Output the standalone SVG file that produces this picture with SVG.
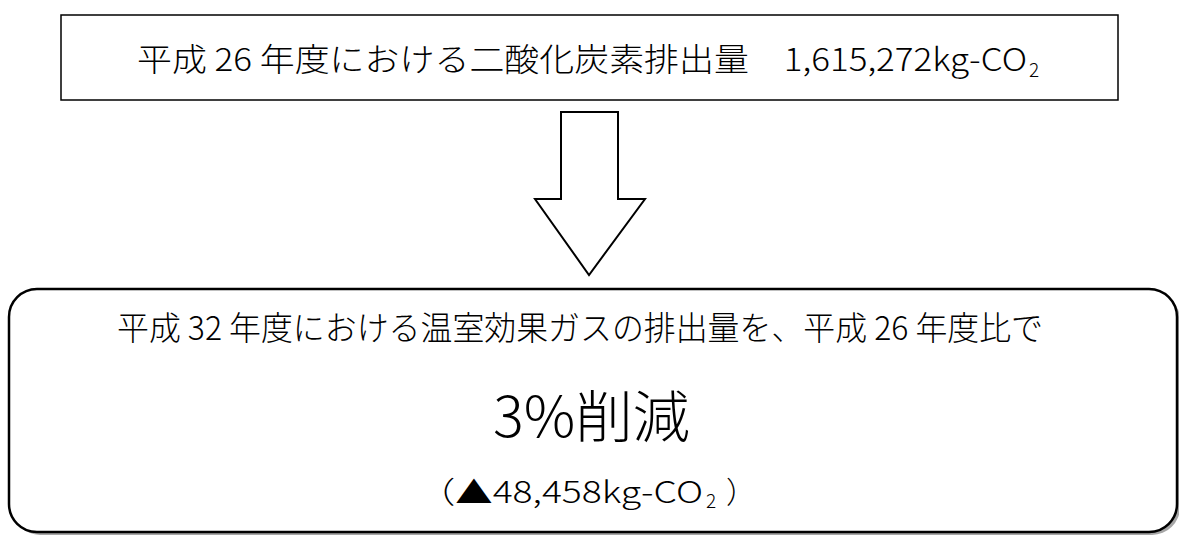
<svg xmlns="http://www.w3.org/2000/svg" width="1179" height="535" viewBox="0 0 1179 535">
  <style>
    .t { font-family: "Noto Sans CJK JP", "Noto Sans", sans-serif; font-weight: 300; fill: #000; }
    .box { fill: #fff; stroke: #000; }
  </style>
  <rect width="1179" height="535" fill="#fff"/>
  <g id="node-2014">
    <rect class="box" x="61" y="15" width="1057" height="85" stroke-width="1.5"/>
    <text class="t" font-size="32" y="71"><tspan x="137" textLength="890" lengthAdjust="spacingAndGlyphs">平成 26 年度における二酸化炭素排出量　1,615,272kg-CO</tspan><tspan x="1029" y="77" font-size="19">2</tspan></text>
  </g>
  <g id="connectors">
    <polygon points="561,112 618,112 618,199 645,199 589,275 535,199 561,199" fill="#fff" stroke="#000" stroke-width="2" stroke-linejoin="miter"/>
  </g>
  <g id="node-target">
    <rect x="12" y="292" width="1168" height="243" rx="28" fill="#a6a6a6"/>
    <rect class="box" x="9" y="289" width="1168" height="243" rx="28" stroke-width="2.5"/>
    <text class="t" font-size="33" x="117" y="340" textLength="926" lengthAdjust="spacingAndGlyphs">平成 32 年度における温室効果ガスの排出量を、平成 26 年度比で</text>
    <text class="t" font-size="56" x="493" y="437" textLength="197" lengthAdjust="spacingAndGlyphs">3%削減</text>
    <text class="t" font-size="30" y="503"><tspan x="418" textLength="285" lengthAdjust="spacingAndGlyphs">（▲48,458kg-CO</tspan><tspan x="706" y="508" font-size="19">2</tspan><tspan x="726" y="503">）</tspan></text>
  </g>
</svg>
